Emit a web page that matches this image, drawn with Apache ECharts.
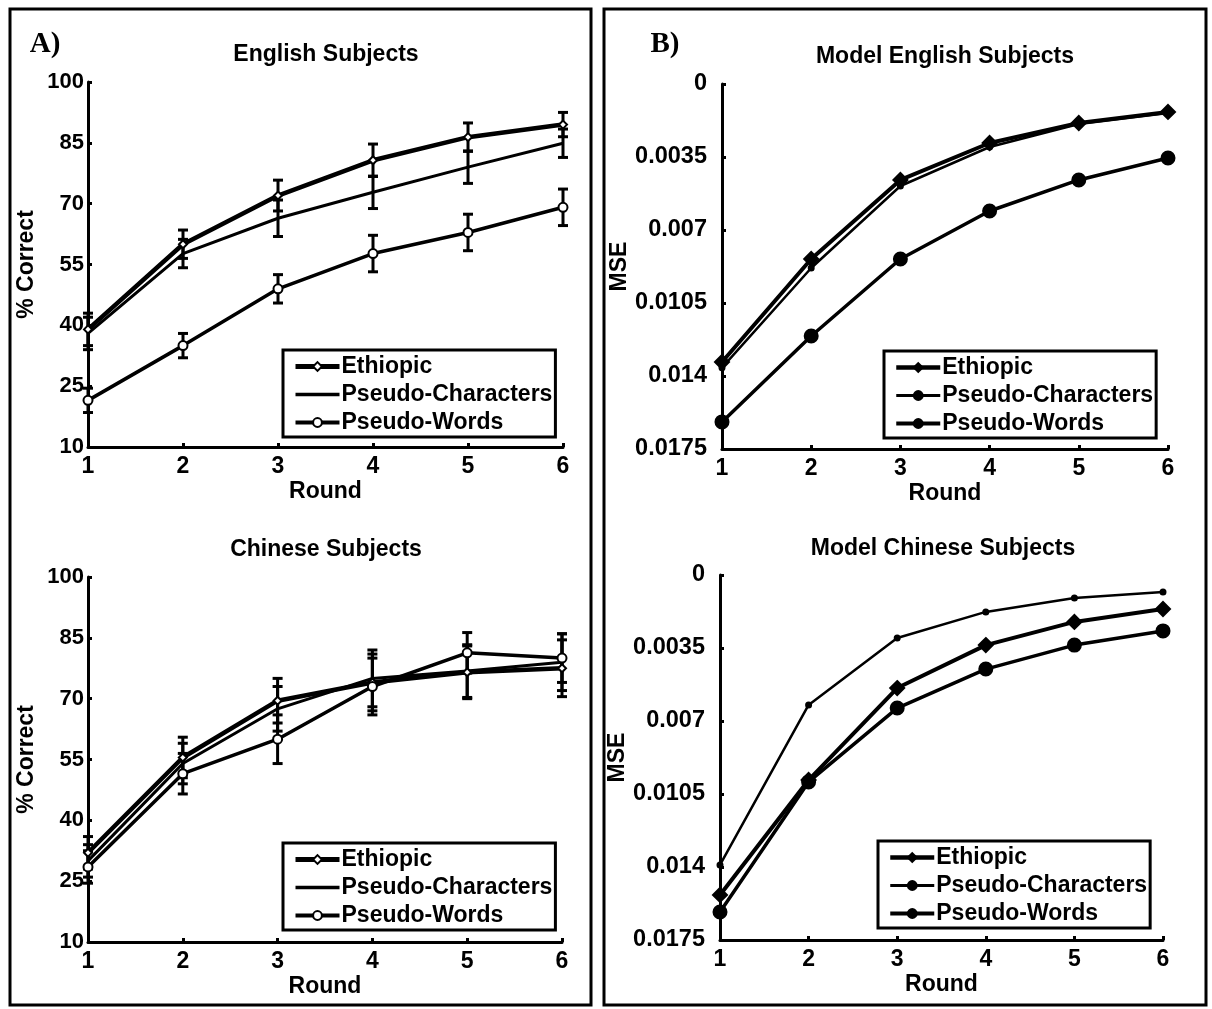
<!DOCTYPE html>
<html>
<head>
<meta charset="utf-8">
<script src="https://cdn.jsdelivr.net/npm/echarts@6/dist/echarts.min.js"></script>
<style>
html,body{margin:0;padding:0;background:#fff;}
#c{width:1212px;height:1009px;}
</style>
</head>
<body>
<div id="c"></div>
<script>
// ---------- data ----------
const rounds = [1, 2, 3, 4, 5, 6];
const seriesNames = ['Ethiopic', 'Pseudo-Characters', 'Pseudo-Words'];
const pctTicks = [10, 25, 40, 55, 70, 85, 100];
const mseTicks = [0, 0.0035, 0.007, 0.0105, 0.014, 0.0175];

// A) English Subjects (% correct, error bars)
const engEth = [39.0, 60.0, 72.0, 80.7, 86.4, 89.5];
const engEthErr = [4.0, 3.5, 3.8, 4.0, 3.5, 3.0];
const engPC = [38.0, 57.7, 66.4, 72.8, 79.0, 84.9];
const engPCErr = [4.0, 3.5, 4.5, 4.0, 4.0, 3.5];
const engPW = [21.5, 35.0, 49.0, 57.7, 62.9, 69.1];
const engPWErr = [3.0, 3.0, 3.5, 4.5, 4.5, 4.5];

// A) Chinese Subjects
const chnEth = [32.0, 55.5, 69.5, 74.0, 76.5, 77.5];
const chnEthErr = [4.0, 5.0, 5.5, 7.0, 6.5, 7.0];
const chnPC = [30.0, 54.0, 67.5, 75.0, 76.8, 79.0];
const chnPCErr = [4.0, 5.0, 5.5, 7.0, 6.5, 7.0];
const chnPW = [28.5, 51.5, 60.0, 73.0, 81.3, 80.0];
const chnPWErr = [4.0, 5.0, 6.0, 7.0, 5.0, 6.0];

// B) Model English Subjects (MSE)
const mEngEth = [0.01333, 0.00839, 0.00460, 0.00283, 0.00187, 0.00134];
const mEngPC = [0.01360, 0.00882, 0.00489, 0.00302, 0.00192, 0.00139];
const mEngPW = [0.01620, 0.01208, 0.00839, 0.00609, 0.00460, 0.00355];

// B) Model Chinese Subjects (MSE)
const mChnEth = [0.01534, 0.00983, 0.00542, 0.00336, 0.00225, 0.00163];
const mChnPC = [0.01390, 0.00623, 0.00302, 0.00177, 0.00110, 0.00082];
const mChnPW = [0.01616, 0.00992, 0.00638, 0.00451, 0.00336, 0.00268];

// ---------- helpers ----------
const FONT = 'Liberation Sans, Arial, sans-serif';
const pair = (vals) => rounds.map((r, i) => [r, vals[i]]);
const errData = (vals, errs) => rounds.map((r, i) => [r, vals[i] - errs[i], vals[i] + errs[i]]);

const grids = [
  {left: 88, top: 82, width: 475, height: 365},
  {left: 722, top: 84, width: 446, height: 365},
  {left: 88, top: 577, width: 474, height: 365},
  {left: 720, top: 575, width: 443, height: 365}
];

function xAx(i) {
  return {
    gridIndex: i, type: 'value', min: 1, max: 6, interval: 1, position: 'bottom',
    name: 'Round', nameLocation: 'middle', nameGap: 33,
    nameTextStyle: {fontFamily: FONT, fontWeight: 'bold', fontSize: 23, color: '#000'},
    axisLine: {show: true, onZero: false, lineStyle: {color: '#000', width: 3}},
    axisTick: {show: true, inside: true, length: 4, lineStyle: {color: '#000', width: 3}},
    axisLabel: {fontFamily: FONT, fontWeight: 'bold', fontSize: 23, color: '#000', margin: 8},
    splitLine: {show: false}
  };
}
function yAxPct(i) {
  return {
    gridIndex: i, type: 'value', min: 10, max: 100,
    name: '% Correct', nameLocation: 'middle', nameGap: 50, nameRotate: 90,
    nameTextStyle: {fontFamily: FONT, fontWeight: 'bold', fontSize: 23, color: '#000'},
    axisLine: {show: true, onZero: false, lineStyle: {color: '#000', width: 3}},
    axisTick: {show: true, inside: true, length: 4, customValues: pctTicks, lineStyle: {color: '#000', width: 3}},
    axisLabel: {fontFamily: FONT, fontWeight: 'bold', fontSize: 22, color: '#000', margin: 4, customValues: pctTicks},
    splitLine: {show: false}
  };
}
function yAxMse(i) {
  return {
    gridIndex: i, type: 'value', min: 0, max: 0.0175, inverse: true,
    name: 'MSE', nameLocation: 'middle', nameGap: 86, nameRotate: 90,
    nameTextStyle: {fontFamily: FONT, fontWeight: 'bold', fontSize: 23, color: '#000'},
    axisLine: {show: true, onZero: false, lineStyle: {color: '#000', width: 3}},
    axisTick: {show: true, inside: true, length: 4, customValues: mseTicks, lineStyle: {color: '#000', width: 3}},
    axisLabel: {fontFamily: FONT, fontWeight: 'bold', fontSize: 23.5, color: '#000', margin: 15, customValues: mseTicks,
      formatter: (v) => String(Number(v.toFixed(5)))},
    splitLine: {show: false}
  };
}

const styleA = {
  'Ethiopic': {width: 4.5, symbol: 'diamond', size: 8, fill: '#fff'},
  'Pseudo-Characters': {width: 3, symbol: 'none', size: 3, fill: '#000'},
  'Pseudo-Words': {width: 3.5, symbol: 'circle', size: 9, fill: '#fff'}
};
const styleB = {
  'Ethiopic': {width: 4, symbol: 'diamond', size: 14, fill: '#000'},
  'Pseudo-Characters': {width: 2.5, symbol: 'circle', size: 5, fill: '#000'},
  'Pseudo-Words': {width: 3.5, symbol: 'circle', size: 13, fill: '#000'}
};

function lineSeries(name, vals, gi, st) {
  const s = st[name];
  return {
    type: 'line', name: name, xAxisIndex: gi, yAxisIndex: gi,
    data: pair(vals), symbol: s.symbol, symbolSize: s.size, showSymbol: true,
    lineStyle: {color: '#000', width: s.width},
    itemStyle: {color: s.fill, borderColor: '#000', borderWidth: 2},
    emphasis: {disabled: true}, animation: false, z: 3
  };
}
function errSeries(vals, errs, gi) {
  return {
    type: 'custom', xAxisIndex: gi, yAxisIndex: gi, data: errData(vals, errs),
    encode: {x: 0, y: [1, 2]}, animation: false, z: 2,
    renderItem: function (params, api) {
      const x = api.value(0);
      const lo = api.coord([x, api.value(1)]);
      const hi = api.coord([x, api.value(2)]);
      const cap = 5;
      const st = {stroke: '#000', lineWidth: 3};
      return {type: 'group', children: [
        {type: 'line', shape: {x1: lo[0], y1: lo[1], x2: hi[0], y2: hi[1]}, style: st},
        {type: 'line', shape: {x1: lo[0] - cap, y1: lo[1], x2: lo[0] + cap, y2: lo[1]}, style: st},
        {type: 'line', shape: {x1: hi[0] - cap, y1: hi[1], x2: hi[0] + cap, y2: hi[1]}, style: st}
      ]};
    }
  };
}

function legendAt(left, top, st) {
  return {
    data: seriesNames.map((n) => {
      const item = {name: n, lineStyle: {width: st[n].width + 0.5, color: '#000'},
        itemStyle: {color: st[n].fill, borderColor: '#000', borderWidth: 2}};
      if (st[n].symbol === 'none') item.itemStyle = {opacity: 0};
      return item;
    }),
    orient: 'vertical', left: left, top: top,
    itemWidth: 44, itemHeight: 11, itemGap: 5,
    padding: [5, 3, 3, 10],
    borderColor: '#000', borderWidth: 3, backgroundColor: '#fff',
    textStyle: {fontFamily: FONT, fontWeight: 'bold', fontSize: 23, color: '#000', padding: [0, 0, 0, -3]},
    selectedMode: false
  };
}

const series = [
  errSeries(engEth, engEthErr, 0), errSeries(engPC, engPCErr, 0), errSeries(engPW, engPWErr, 0),
  lineSeries('Ethiopic', engEth, 0, styleA), lineSeries('Pseudo-Characters', engPC, 0, styleA), lineSeries('Pseudo-Words', engPW, 0, styleA),
  lineSeries('Ethiopic', mEngEth, 1, styleB), lineSeries('Pseudo-Characters', mEngPC, 1, styleB), lineSeries('Pseudo-Words', mEngPW, 1, styleB),
  errSeries(chnEth, chnEthErr, 2), errSeries(chnPC, chnPCErr, 2), errSeries(chnPW, chnPWErr, 2),
  lineSeries('Ethiopic', chnEth, 2, styleA), lineSeries('Pseudo-Characters', chnPC, 2, styleA), lineSeries('Pseudo-Words', chnPW, 2, styleA),
  lineSeries('Ethiopic', mChnEth, 3, styleB), lineSeries('Pseudo-Characters', mChnPC, 3, styleB), lineSeries('Pseudo-Words', mChnPW, 3, styleB)
];

function txt(x, y, s, size, family) {
  return {type: 'text', x: x, y: y, style: {text: s, fontFamily: family || FONT, fontWeight: 'bold', fontSize: size,
    fill: '#000', textAlign: 'center', textVerticalAlign: 'middle'}, z: 10};
}

const option = {
  backgroundColor: '#fff',
  animation: false,
  grid: grids,
  xAxis: [xAx(0), xAx(1), xAx(2), xAx(3)],
  yAxis: [yAxPct(0), yAxMse(1), yAxPct(2), yAxMse(3)],
  legend: [legendAt(283, 350, styleA), legendAt(884, 351, styleB), legendAt(283, 843, styleA), legendAt(878, 841, styleB)],
  series: series,
  graphic: [
    {type: 'rect', shape: {x: 10, y: 9, width: 581, height: 996}, style: {fill: 'none', stroke: '#000', lineWidth: 3}, z: 0},
    {type: 'rect', shape: {x: 604, y: 9, width: 602, height: 996}, style: {fill: 'none', stroke: '#000', lineWidth: 3}, z: 0},
    txt(45, 45, 'A)', 29, 'Liberation Serif, Times New Roman, serif'),
    txt(665, 45, 'B)', 29, 'Liberation Serif, Times New Roman, serif'),
    txt(326, 55, 'English Subjects', 23),
    txt(945, 57, 'Model English Subjects', 23),
    txt(326, 550, 'Chinese Subjects', 23),
    txt(943, 549, 'Model Chinese Subjects', 23)
  ]
};

const chart = echarts.init(document.getElementById('c'), null, {renderer: 'canvas'});
chart.setOption(option);
</script>
</body>
</html>
